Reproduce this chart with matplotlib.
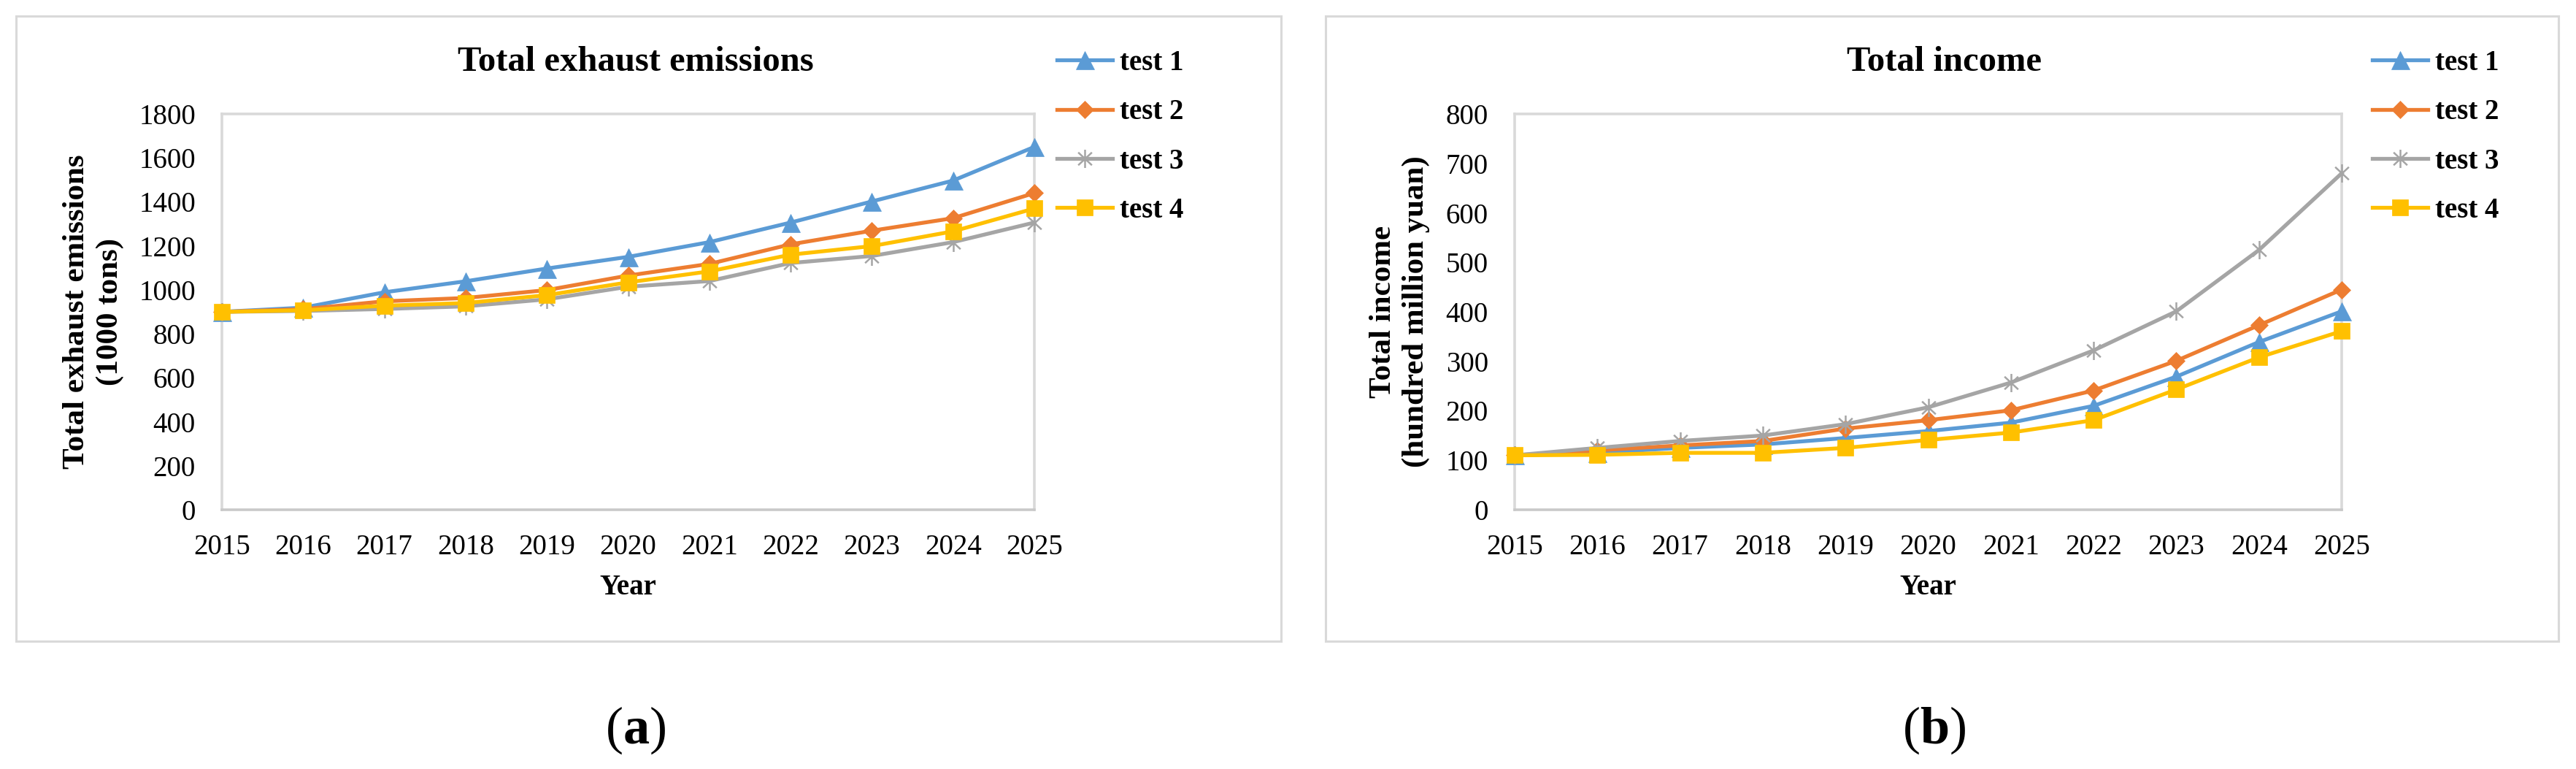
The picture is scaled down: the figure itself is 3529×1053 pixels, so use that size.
import matplotlib
matplotlib.use("Agg")
import matplotlib.pyplot as plt
import numpy as np
from matplotlib.path import Path
from matplotlib.patches import Rectangle

# data
years = [2015, 2016, 2017, 2018, 2019, 2020, 2021, 2022, 2023, 2024, 2025]
series_names = ["test 1", "test 2", "test 3", "test 4"]

emis_test1 = [900, 919, 989, 1039, 1097, 1150, 1217, 1306, 1402, 1497, 1650]
emis_test2 = [900, 912, 948, 963, 999, 1065, 1118, 1207, 1269, 1326, 1440]
emis_test3 = [900, 904, 913, 925, 957, 1014, 1040, 1122, 1154, 1217, 1306]
emis_test4 = [900, 907, 928, 940, 976, 1034, 1084, 1160, 1199, 1266, 1370]

inc_test1 = [110, 115, 125, 132, 145, 159, 176, 210, 269, 339, 401]
inc_test2 = [110, 120, 130, 139, 164, 181, 201, 241, 301, 373, 445]
inc_test3 = [110, 125, 139, 150, 173, 207, 257, 322, 401, 525, 680]
inc_test4 = [110, 111, 115, 115, 125, 141, 156, 181, 243, 308, 361]

W, H = 3530, 1053
plt.rcParams['font.family'] = ['Liberation Serif', 'DejaVu Serif']
plt.rcParams['mathtext.fontset'] = 'custom'
plt.rcParams['mathtext.rm'] = 'Liberation Serif'
plt.rcParams['mathtext.bf'] = 'Liberation Serif:bold'

colors = ['#5B9BD5', '#ED7D31', '#A5A5A5', '#FFC000']
star = Path([(0, -1), (0, 1), (-0.75, -0.7), (0.75, 0.7), (-0.75, 0.7), (0.75, -0.7)],
            [Path.MOVETO, Path.LINETO, Path.MOVETO, Path.LINETO, Path.MOVETO, Path.LINETO])
markers = ['^', 'D', star, 's']
msizes = [18, 12, 18, 16.5]

fig = plt.figure(figsize=(W / 100, H / 100), dpi=100)
fig.patch.set_facecolor('white')


def px_box(x0, y0, x1, y1):
    # pixel coords (from top-left) -> figure fraction [left, bottom, width, height]
    return [x0 / W, 1 - y1 / H, (x1 - x0) / W, (y1 - y0) / H]


# outer frames
for x0, x1 in [(22, 1755), (1816, 3505)]:
    b = px_box(x0, 22, x1, 878)
    fig.patches.append(Rectangle((b[0], b[1]), b[2], b[3], transform=fig.transFigure,
                                 fill=False, edgecolor='#d9d9d9', linewidth=2.2))


def draw_panel(rect, data, ymax, ystep, title, title_x, ylabel, ylabel_x, leg_x):
    ax = fig.add_axes(rect)
    for i, vals in enumerate(data):
        mk = markers[i]
        ax.plot(years, vals, color=colors[i], linewidth=3.8, marker=mk, markersize=msizes[i],
                markerfacecolor=('none' if i == 2 else colors[i]),
                markeredgecolor=colors[i], markeredgewidth=(1.8 if i == 2 else 0.5),
                label=series_names[i], clip_on=False, zorder=3 + i)
    ax.set_xlim(2015, 2025)
    ax.set_ylim(0, ymax)
    ax.set_xticks(years)
    ax.set_yticks(np.arange(0, ymax + 1, ystep))
    ax.tick_params(length=0, labelsize=28)
    ax.tick_params(axis='y', pad=26)
    ax.tick_params(axis='x', pad=24)
    for s in ax.spines.values():
        s.set_color('#d9d9d9')
        s.set_linewidth(2.6)
    ax.spines['bottom'].set_color('#c9c9c9')
    ax.set_xlabel('Year', fontsize=28, fontweight='bold')
    ax.xaxis.set_label_coords(0.5, -0.197)
    ax.xaxis.label.set_va('center')
    ax.set_ylabel(ylabel, fontsize=31, fontweight='bold', linespacing=1.25)
    ax.yaxis.set_label_coords(ylabel_x, 0.5)
    ax.yaxis.label.set_va('center')
    fig.text(title_x / W, 1 - 85 / H, title, fontsize=35, fontweight='bold',
             ha='center', va='center')
    ax.legend(loc='upper left', bbox_to_anchor=(leg_x / W, 1 - 68 / H),
              bbox_transform=fig.transFigure, frameon=False, borderpad=0,
              borderaxespad=0, handlelength=1.95, handletextpad=0.25,
              labelspacing=0.78, prop={'size': 28, 'weight': 'bold'})
    return ax


draw_panel(px_box(304, 156, 1417, 698),
           [emis_test1, emis_test2, emis_test3, emis_test4], 1800, 200,
           'Total exhaust emissions', 871,
           'Total exhaust emissions\n(1000 tons)', -0.158, 1448)

draw_panel(px_box(2075, 156, 3208, 698),
           [inc_test1, inc_test2, inc_test3, inc_test4], 800, 100,
           'Total income', 2664,
           'Total income\n(hundred million yuan)', -0.139, 3250)

fig.text(871 / W, 1 - 1000 / H, r'($\mathbf{a}$)', fontsize=52, ha='center', va='center')
fig.text(2650 / W, 1 - 1000 / H, r'($\mathbf{b}$)', fontsize=52, ha='center', va='center')

fig.savefig('out.png', dpi=100, facecolor='white')
